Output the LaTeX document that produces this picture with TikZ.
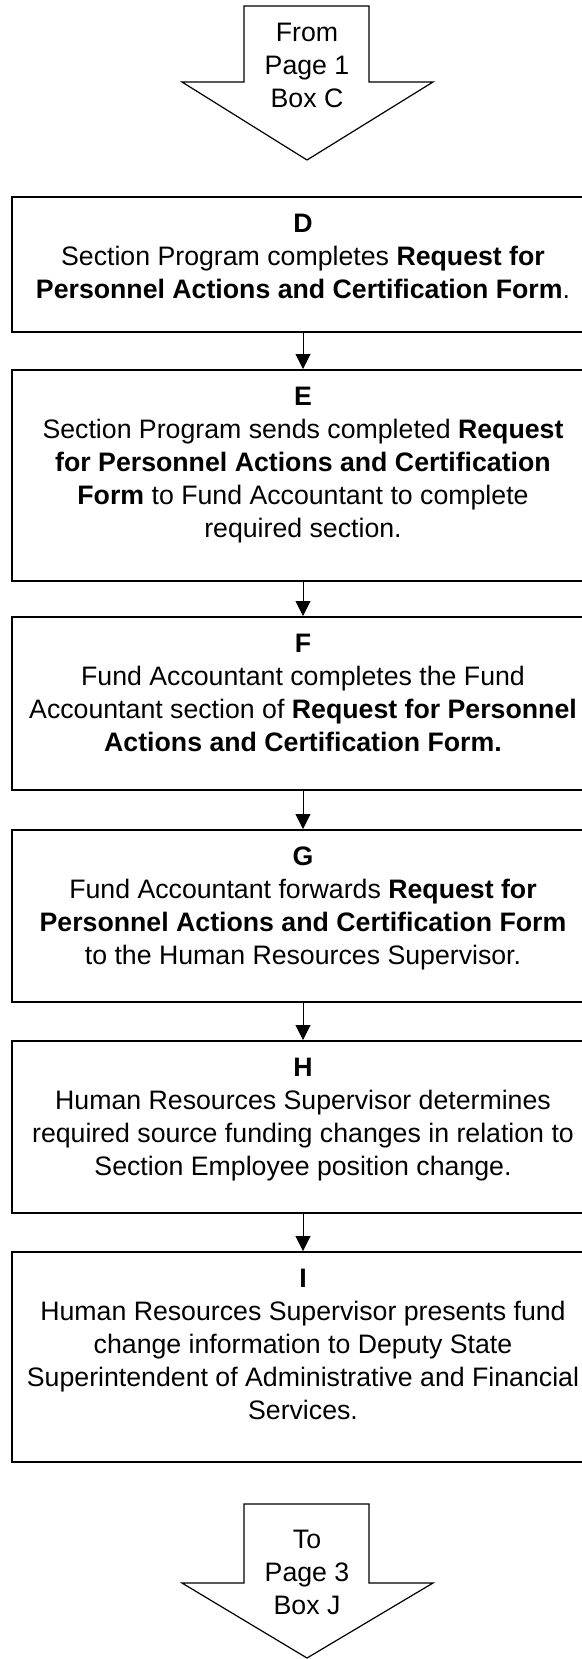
\documentclass[tikz,border=0pt]{standalone}
\usepackage{fontspec}
\setmainfont{Liberation Sans}
\usepackage{tikz}
\usetikzlibrary{arrows.meta,positioning}

\begin{document}
\begin{tikzpicture}[
  x=1pt, y=-1pt,
  stepbox/.style={rectangle, draw, line width=2pt, minimum width=582pt, inner sep=0pt},
  steptext/.style={align=center, anchor=base, inner sep=0pt, font=\fontsize{26.7}{33}\selectfont},
  pagearrow/.style={draw, line width=1.2pt, line join=miter, fill=white},
  flow/.style={-{Triangle[length=15pt, width=15pt]}, line width=1pt},
]
  \useasboundingbox (0,0) rectangle (581,1659);

  % Off-page connector in
  \draw[pagearrow] (244,6) -- (369,6) -- (369,82) -- (433,82) -- (307,160)
    -- (182,82) -- (244,82) -- cycle;
  \node[steptext] (fromC) at (307,108) {From\\Page 1\\Box C};

  % Boxes
  \node[stepbox, minimum height=135pt] (D) at (303,264.5) {};
  \node[stepbox, minimum height=211pt] (E) at (303,475.5) {};
  \node[stepbox, minimum height=173pt] (F) at (303,703.5) {};
  \node[stepbox, minimum height=172pt] (G) at (303,916) {};
  \node[stepbox, minimum height=172pt] (H) at (303,1127) {};
  \node[stepbox, minimum height=210pt] (I) at (303,1357) {};

  % Box texts (placed by the baseline of their last line)
  \node[steptext] (Dtext) at (303,298) {\textbf{D}\\
    Section Program completes \textbf{Request for}\\
    \textbf{Personnel Actions and Certification Form}.};
  \node[steptext] (Etext) at (303,537) {\textbf{E}\\
    Section Program sends completed \textbf{Request}\\
    \textbf{for Personnel Actions and Certification}\\
    \textbf{Form} to Fund Accountant to complete\\
    required section.};
  \node[steptext] (Ftext) at (303,751) {\textbf{F}\\
    Fund Accountant completes the Fund\\
    Accountant section of \textbf{Request for Personnel}\\
    \textbf{Actions and Certification Form.}};
  \node[steptext] (Gtext) at (303,964) {\textbf{G}\\
    Fund Accountant forwards \textbf{Request for}\\
    \textbf{Personnel Actions and Certification Form}\\
    to the Human Resources Supervisor.};
  \node[steptext] (Htext) at (303,1175) {\textbf{H}\\
    Human Resources Supervisor determines\\
    required source funding changes in relation to\\
    Section Employee position change.};
  \node[steptext] (Itext) at (303,1419) {\textbf{I}\\
    Human Resources Supervisor presents fund\\
    change information to Deputy State\\
    Superintendent of Administrative and Financial\\
    Services.};

  % Flow
  \draw[flow] (D) -- (E);
  \draw[flow] (E) -- (F);
  \draw[flow] (F) -- (G);
  \draw[flow] (G) -- (H);
  \draw[flow] (H) -- (I);

  % Off-page connector out
  \draw[pagearrow] (244,1504) -- (369,1504) -- (369,1583) -- (433,1583) -- (307,1658)
    -- (182,1583) -- (244,1583) -- cycle;
  \node[steptext] (toJ) at (307,1614) {To\\Page 3\\Box J};
\end{tikzpicture}
\end{document}
